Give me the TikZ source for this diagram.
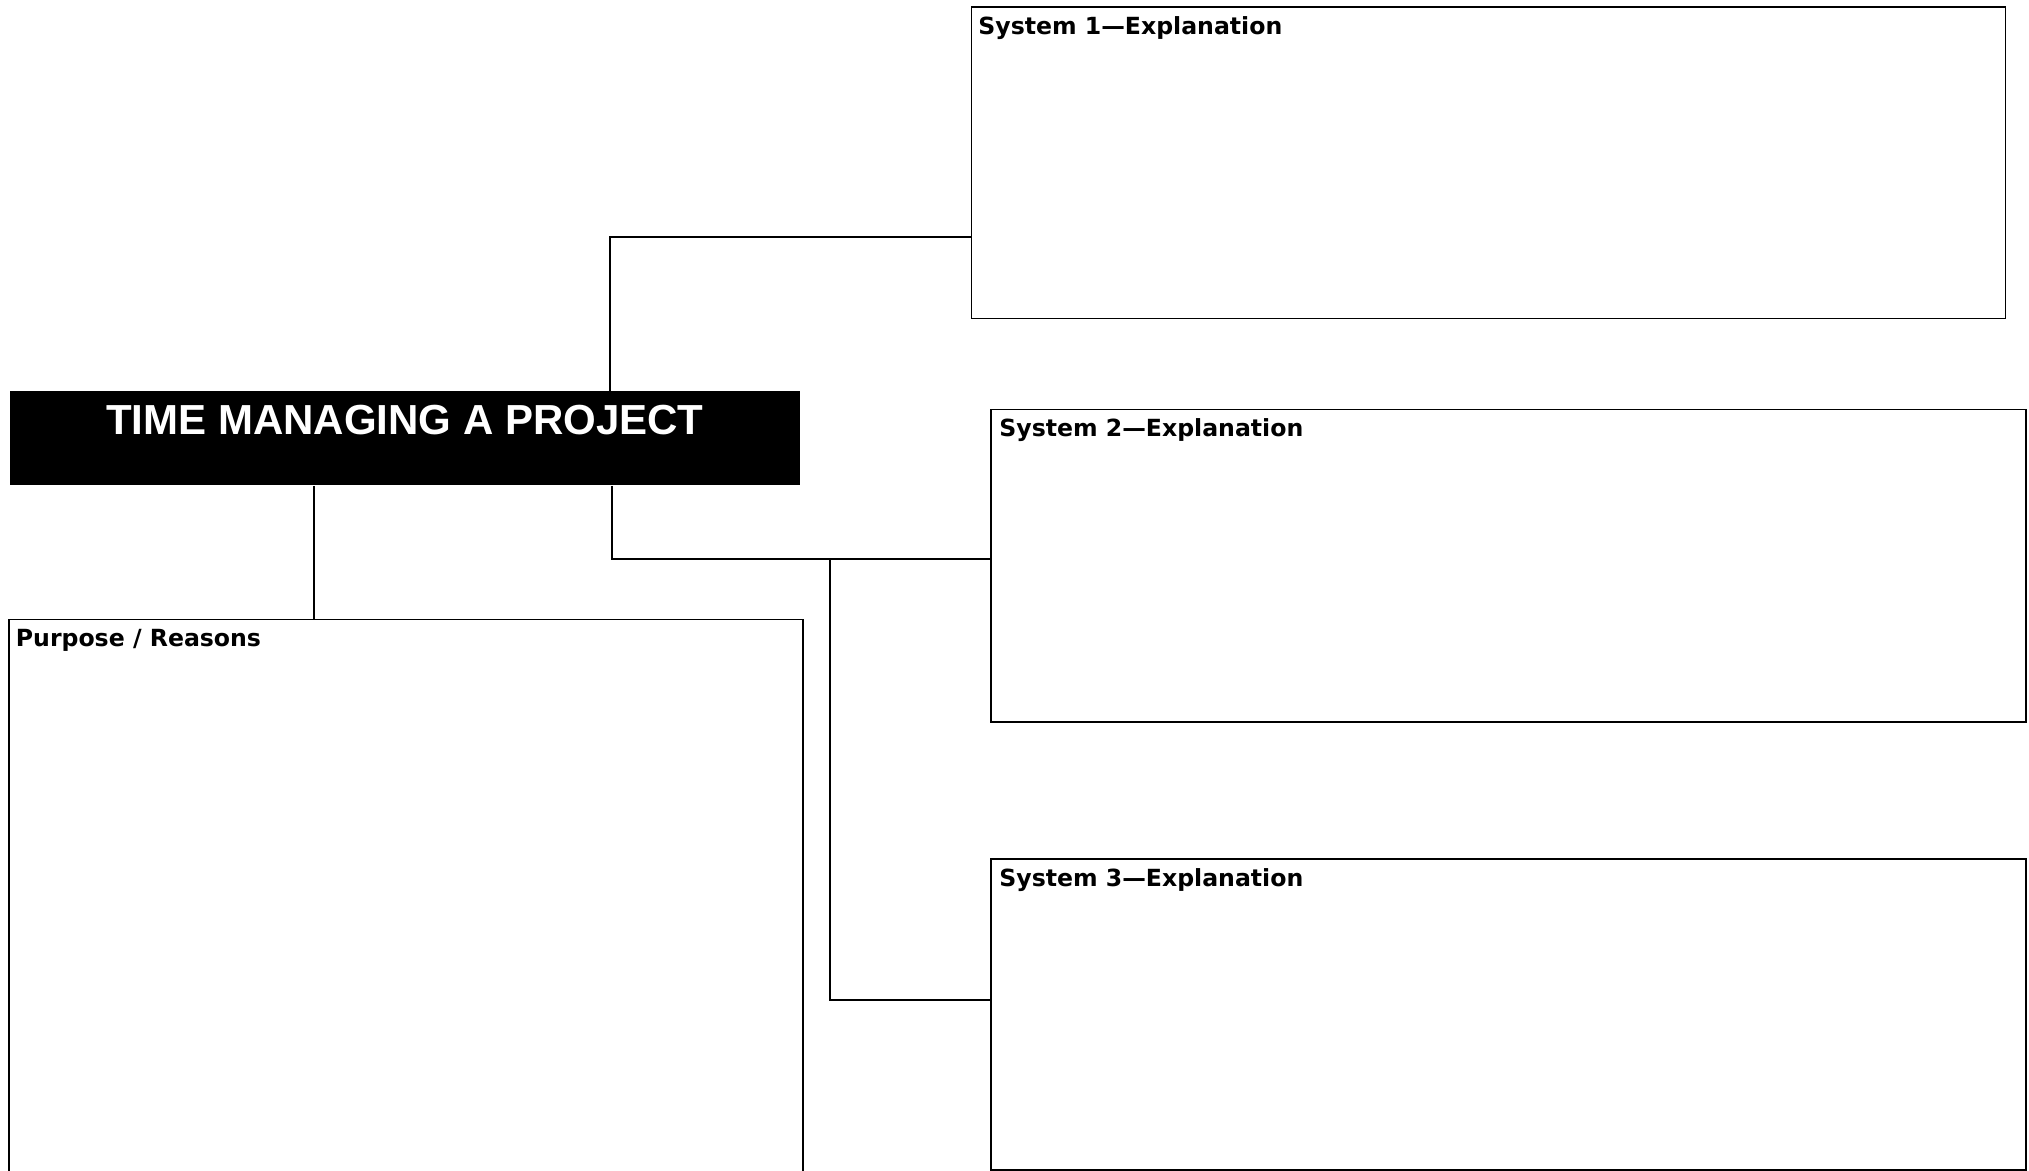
\documentclass[tikz,border=0pt]{standalone}
\usepackage{fontspec}
\newfontfamily\titlefont{Liberation Sans}
\newfontfamily\labelfont{DejaVu Sans}
\begin{document}
\begin{tikzpicture}[x=0.5pt,y=-0.5pt,
  box/.style={draw, line width=0.75pt, inner sep=0pt, anchor=north west},
  lbl/.style={anchor=base west, inner sep=0pt, font=\labelfont\bfseries\fontsize{11.8pt}{14pt}\selectfont},
  conn/.style={line width=1pt}]
\clip (0,0) rectangle (2029,1171);
\fill[white] (0,0) rectangle (2029,1171);
% boxes
\node[box, minimum width=517pt, minimum height=155.75pt] (s1) at (970.5,6.5) {};
\node[box, minimum width=517.5pt, minimum height=156pt] (s2) at (990,409) {};
\node[box, minimum width=517.5pt, minimum height=155.5pt] (s3) at (990,858) {};
\node[box, minimum width=397pt, minimum height=300pt] (purpose) at (8,618.5) {};
\node[anchor=north west, fill=black, inner sep=0pt, minimum width=395pt, minimum height=47pt] (title) at (10,391) {};
% labels
\node[lbl] (l1) at (978,35) {System 1—Explanation};
\node[lbl] (l2) at (999,436.5) {System 2—Explanation};
\node[lbl] (l3) at (999,886) {System 3—Explanation};
\node[lbl] (l4) at (15.5,646.5) {Purpose / Reasons};
\node[anchor=base, inner sep=0pt, text=white, font=\titlefont\bfseries\fontsize{21pt}{25pt}\selectfont] (tt) at (405,435) {TIME MANAGING A PROJECT};
% connector coordinates
\coordinate (k0) at (314,0);
\coordinate (k1) at (609.5,237);
\coordinate (k2) at (612,559);
\coordinate (k3) at (829.5,559);
\coordinate (k4) at (829.5,1000);
% connectors
\draw[conn] (title.south -| k0) -- (purpose.north -| k0);
\draw[conn] (title.north -| k1) -- (k1) -- (s1.west |- k1);
\draw[conn] (title.south -| k2) -- (k2) -- (s2.west |- k2);
\draw[conn] (k3) -- (k4) -- (s3.west |- k4);
\end{tikzpicture}
\end{document}
